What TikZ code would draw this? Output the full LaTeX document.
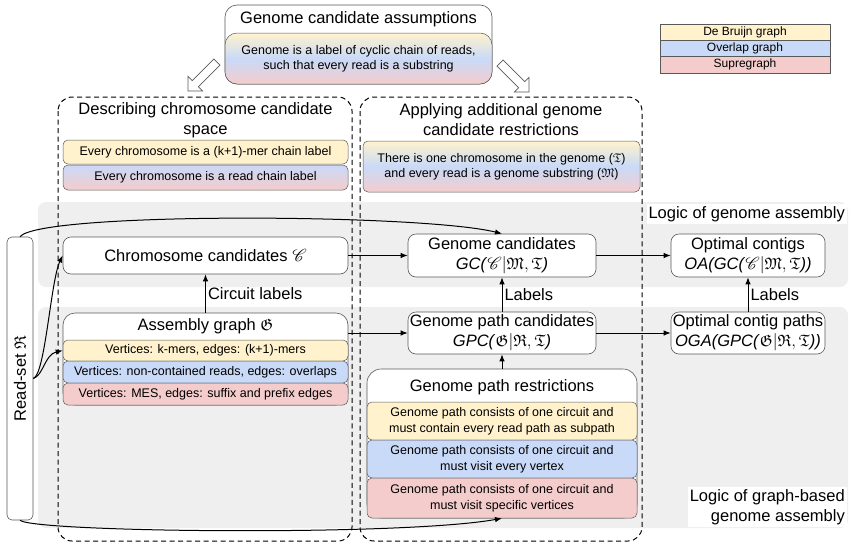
\documentclass[tikz,border=0pt]{standalone}
\usepackage{fontspec}
\setmainfont{Liberation Sans}
\usepackage{amssymb}
\usepackage{mathrsfs}
\usepackage{tikz}
\usetikzlibrary{arrows.meta, positioning, calc, shapes.arrows}

\definecolor{dbgyellow}{HTML}{FFF2CC}
\definecolor{olcblue}{HTML}{C9DAF8}
\definecolor{suppink}{HTML}{F4CCCC}
\definecolor{bandgray}{HTML}{EFEFEF}
\definecolor{linegray}{HTML}{595959}

\begin{document}
\begin{tikzpicture}[
  x=1pt, y=-1pt,
  arrow/.style={-{Latex[length=7pt, width=5.5pt]}, line width=1pt},
  card/.style={draw=linegray, fill=white, rounded corners=8pt, line width=0.6pt, inner sep=0pt},
  row/.style={draw=linegray, rounded corners=5pt, line width=0.5pt, align=center, inner sep=0pt, font=\fontsize{12.5}{15}\selectfont},
  dbg/.style={row, fill=dbgyellow},
  olc/.style={row, fill=olcblue},
  sup/.style={row, fill=suppink},
  mixed/.style={row, top color=dbgyellow, bottom color=suppink, middle color=olcblue},
  lbl/.style={font=\fontsize{16.5}{20}\selectfont, align=center},
  legend/.style={draw=linegray, line width=0.6pt, minimum width=170, minimum height=16.3, inner sep=0pt, font=\fontsize{12}{14}\selectfont},
  zone/.style={draw=black, line width=1pt, dash pattern=on 5pt off 3.5pt, rounded corners=14pt},
  band/.style={fill=bandgray, rounded corners=8pt},
  hollow/.style={single arrow, draw=linegray, fill=white, line width=0.7pt, minimum height=41pt, inner xsep=0pt, inner ysep=4pt, single arrow head extend=6pt, single arrow tip angle=90}
]
\useasboundingbox (0,0) rectangle (853,549);

  % background bands
  \fill[band] (38,202) rectangle (848,287);
  \fill[band] (38,307) rectangle (848,528);

  % dashed zones
  \draw[zone] (58,97) rectangle (352,541);
  \draw[zone] (360,97) rectangle (642,541);

  % assumptions on top
  \node[card, rounded corners=12pt, minimum width=267, minimum height=79] (assume) at (358.5,44.5) {};
  \node[lbl] (assumetitle) at (358.5,19) {Genome candidate assumptions};
  \node[mixed, rounded corners=12pt, minimum width=267, minimum height=51] (assumetext) at (358.5,58.5) {Genome is a label of cyclic chain of reads,\\such that every read is a substring};

  \node[hollow, rotate=225] (toleft) at (204,75) {};
  \node[hollow, rotate=-45] (toright) at (513,76) {};

  % legend
  \node[legend, fill=dbgyellow] (legdbg) at (745,32.2) {De Bruijn graph};
  \node[legend, fill=olcblue] (legolc) at (745,48.5) {Overlap graph};
  \node[legend, fill=suppink] (legsup) at (745,64.8) {Supregraph};

  % left zone
  \node[lbl] (desc) at (205.5,120) {Describing chromosome candidate\\space};
  \node[dbg, minimum width=285, minimum height=24] (kmerchain) at (205.5,152) {Every chromosome is a (k+1)-mer chain label};
  \node[row, top color=olcblue, bottom color=suppink, minimum width=285, minimum height=25] (readchain) at (205.5,177.5) {Every chromosome is a read chain label};

  \node[card, lbl, minimum width=285, minimum height=37] (chrom) at (205.5,255.5) {Chromosome candidates $\mathscr{C}$};

  \node[card, rounded corners=12pt, minimum width=285, minimum height=92] (asm) at (205.5,359) {};
  \node[lbl] (asmtitle) at (205.5,326) {Assembly graph $\mathfrak{G}$};
  \node[dbg, minimum width=285, minimum height=21] (vkmer) at (205.5,350.5) {Vertices: k-mers, edges: (k+1)-mers};
  \node[olc, minimum width=285, minimum height=22] (vread) at (205.5,372) {Vertices: non-contained reads, edges: overlaps};
  \node[sup, minimum width=285, minimum height=22] (vmes) at (205.5,394) {Vertices: MES, edges: suffix and prefix edges};

  % right zone
  \node[lbl] (apply) at (501,120) {Applying additional genome\\candidate restrictions};
  \node[mixed, minimum width=277, minimum height=51] (restrict) at (501.5,166.5) {There is one chromosome in the genome ($\mathfrak{T}$)\\and every read is a genome substring ($\mathfrak{M}$)};

  \node[card, lbl, minimum width=188, minimum height=43] (gc) at (502,255.5) {Genome candidates\\\textit{GC(}$\mathscr{C}|\mathfrak{M},\mathfrak{T}$\textit{)}};
  \node[card, lbl, minimum width=188, minimum height=42] (gpc) at (502,333) {Genome path candidates\\\textit{GPC(}$\mathfrak{G}|\mathfrak{R},\mathfrak{T}$\textit{)}};

  \node[card, rounded corners=14pt, minimum width=270, minimum height=149] (restr) at (502,443.5) {};
  \node[lbl] (restrtitle) at (502,387) {Genome path restrictions};
  \node[dbg, minimum width=270, minimum height=38, font=\fontsize{12.5}{16}\selectfont] (rsub) at (502,421) {Genome path consists of one circuit and\\must contain every read path as subpath};
  \node[olc, minimum width=270, minimum height=38, font=\fontsize{12.5}{16}\selectfont] (rvert) at (502,459) {Genome path consists of one circuit and\\must visit every vertex};
  \node[sup, minimum width=270, minimum height=40, font=\fontsize{12.5}{16}\selectfont] (rspec) at (502,498) {Genome path consists of one circuit and\\must visit specific vertices};

  % optimal results
  \node[card, lbl, minimum width=154, minimum height=43] (oc) at (748,255.5) {Optimal contigs\\\textit{OA(GC(}$\mathscr{C}|\mathfrak{M},\mathfrak{T}$\textit{))}};
  \node[card, lbl, minimum width=154, minimum height=42] (ocp) at (748,333) {Optimal contig paths\\\textit{OGA(GPC(}$\mathfrak{G}|\mathfrak{R},\mathfrak{T}$\textit{))}};

  \node[lbl, fill=white, anchor=north east, inner sep=2pt] (logic) at (847,204) {Logic of genome assembly};
  \node[lbl, fill=white, anchor=south east, align=right, inner sep=2pt] (graphlogic) at (847,527) {Logic of graph-based\\genome assembly};

  % reads
  \node[card, lbl, rounded corners=5pt, minimum width=26, minimum height=283] (reads) at (20,378.5) {\rotatebox{90}{Read-set $\mathfrak{R}$}};

  % connectors
  \draw[arrow] (chrom) -- (gc);
  \draw[arrow] (gc) -- (oc);
  \draw[arrow] (gpc.west -| asm.east) -- (gpc.west);
  \draw[arrow] (gpc) -- (ocp);
  \draw[arrow] (asm.north) -- (chrom.south) node[lbl, midway, right, inner sep=2pt] (circ) {Circuit labels};
  \draw[arrow] (gpc) -- (gc) node[lbl, midway, right, inner sep=2pt] (lab1) {Labels};
  \draw[arrow] (ocp) -- (oc) node[lbl, midway, right, inner sep=2pt] (lab2) {Labels};
  \draw[arrow] (restr) -- (gpc);

  \draw[arrow] (reads.east) .. controls +(12,-4) and +(-12,25) .. (chrom.west);
  \draw[arrow] (reads.east) .. controls +(10,-3) and +(-18,4) .. (vkmer.west);
  \draw[arrow] (reads.north) .. controls +(20,-25) and +(-80,-20) .. (gc.north);
  \draw[arrow] (reads.south) .. controls +(15,12) and +(-100,18) .. (restr.south);

\end{tikzpicture}
\end{document}
